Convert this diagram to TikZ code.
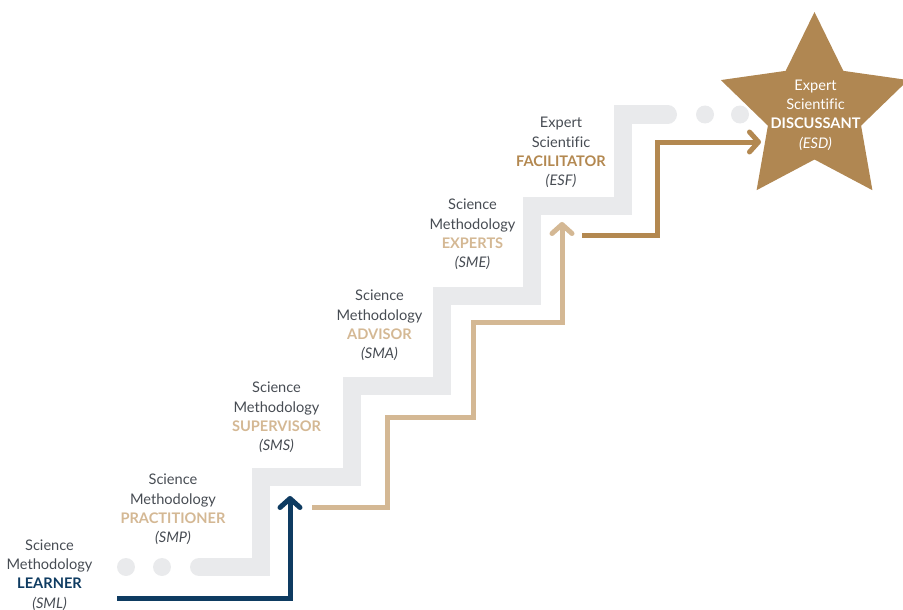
\documentclass[tikz,border=0pt]{standalone}
\usepackage{fontspec}
\setmainfont[Ligatures=NoCommon]{Lato}
\usetikzlibrary{arrows.meta}
\definecolor{bandgrey}{HTML}{E9EAEC}
\definecolor{navy}{HTML}{0E3B61}
\definecolor{lighttan}{HTML}{D4B894}
\definecolor{darktan}{HTML}{B38850}
\definecolor{starfill}{HTML}{B08752}
\definecolor{txtgrey}{HTML}{474C53}
\tikzset{
  lbl/.style={align=center, inner sep=0pt, text=txtgrey, font=\fontsize{14.6}{19.3}\selectfont},
  band/.style={draw=bandgrey, line width=18pt, line cap=round, line join=miter},
  dot/.style={fill=bandgrey},
  pathline/.style={line width=5pt, line join=miter, -{Straight Barb[length=9pt,width=20pt,round]}},
}
\begin{document}
\begin{tikzpicture}[x=1pt,y=-1pt]
\useasboundingbox (0,0) rectangle (903,610);
% grey staircase
\draw[band] (199,567) -- (261,567) -- (261,476.5) -- (352,476.5) -- (352,386) -- (442,386)
  -- (442,295.5) -- (532,295.5) -- (532,206) -- (623,206) -- (623,114.5) -- (668,114.5);
\fill[dot] (126,567) circle (9);
\fill[dot] (162,567) circle (9);
\fill[dot] (705,114.5) circle (9);
\fill[dot] (740,114.5) circle (9);
% star
\begin{scope}[shift={(814.5,110.5)}]
\fill[starfill] (-90:98.5) -- (-54:49) -- (-18:98.5) -- (18:49) -- (54:98.5) -- (90:49)
  -- (126:98.5) -- (162:49) -- (198:98.5) -- (234:49) -- cycle;
\end{scope}
\node[lbl, text=white] (esd) at (815.5,115) {Expert\\Scientific\\\textbf{DISCUSSANT}\\\textit{(ESD)}};
% labels
\node[lbl] (sml) at (49.5,575) {Science\\Methodology\\\textbf{\color{navy}LEARNER}\\\textit{(SML)}};
\node[lbl] (smp) at (173,509.5) {Science\\Methodology\\\textbf{\color{lighttan}PRACTITIONER}\\\textit{(SMP)}};
\node[lbl] (sms) at (276.5,417.5) {Science\\Methodology\\\textbf{\color{lighttan}SUPERVISOR}\\\textit{(SMS)}};
\node[lbl] (sma) at (379.5,325.5) {Science\\Methodology\\\textbf{\color{lighttan}ADVISOR}\\\textit{(SMA)}};
\node[lbl] (sme) at (472.5,234.5) {Science\\Methodology\\\textbf{\color{lighttan}EXPERTS}\\\textit{(SME)}};
\node[lbl] (esf) at (561,152.5) {Expert\\Scientific\\\textbf{\color{darktan}FACILITATOR}\\\textit{(ESF)}};
% path coordinates
\coordinate (a0) at (117,598);
\coordinate (a1) at (290,496);
\coordinate (b0) at (312,507);
\coordinate (b1) at (562,222);
\coordinate (c0) at (582,235);
\coordinate (c1) at (761,142);
\draw[pathline, navy] (a0) -- (a1 |- a0) -- (a1);
\draw[pathline, lighttan] (b0) -- (387,507) -- (387,417) -- (473,417) -- (473,322) -- (b1 |- 0,322) -- (b1);
\draw[pathline, darktan] (c0) -- (657,235) -- (657,142) -- (c1);
\end{tikzpicture}
\end{document}
